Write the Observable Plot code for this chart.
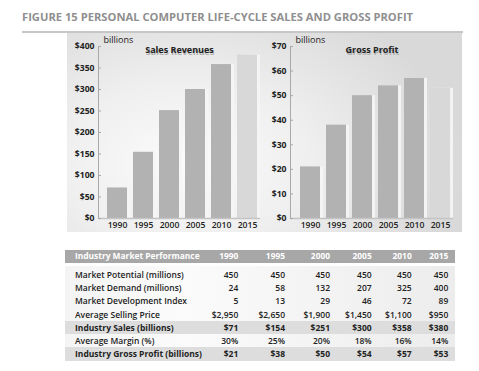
<!DOCTYPE html>
<html><head><meta charset="utf-8">
<script src="https://cdn.jsdelivr.net/npm/d3@7"></script>
<script src="https://cdn.jsdelivr.net/npm/@observablehq/plot@0.6"></script>
<style>
body{margin:0;background:#fff;font-family:"Open Sans",sans-serif;}
#wrap{position:relative;width:479px;height:371px;overflow:hidden;}
#title{position:absolute;left:22px;top:9px;font-size:11.2px;font-weight:700;color:#8f8f8f;white-space:nowrap;line-height:16px;}
#rule{position:absolute;left:22px;top:31px;width:441px;height:2px;background:#c6c6c6;}
#panel{position:absolute;left:67px;top:33px;width:395px;height:199px;
 background:radial-gradient(ellipse 70% 90% at 30% 65%, #fbfbfb 0%, #efefef 45%, #d9d9d9 100%);}
#left{position:absolute;left:67px;top:33px;}
#right{position:absolute;left:267px;top:33px;}
#left svg,#right svg{display:block;}
#tbody{position:absolute;left:65px;top:266px;width:390px;height:95px;background:linear-gradient(to right,#f4f4f4,#fbfbfb 30%,#ececec);}
.hdr{position:absolute;left:65px;top:250px;width:390px;height:12.5px;background:#a7a7a7;color:#fff;font-weight:700;font-size:8.4px;}
.row{position:absolute;left:65px;width:390px;height:13.3px;color:#222;font-size:8.5px;font-weight:600;}
.row.hl{background:#dddddd;font-weight:700;}
.cell{position:absolute;top:0;white-space:nowrap;}
.lab{left:10px;}
.num{width:60px;text-align:right;}
</style></head>
<body><div id="wrap">
<div id="title"></div>
<div id="rule"></div>
<div id="panel"></div>
<div id="left"></div>
<div id="right"></div>
<div id="tbody"></div>
</div>
<script>
const titleText = "FIGURE 15 PERSONAL COMPUTER LIFE-CYCLE SALES AND GROSS PROFIT";
const years = ["1990","1995","2000","2005","2010","2015"];
const salesRevenue = [71,154,251,300,358,380];
const grossProfit = [21,38,50,54,57,53];
const marketPotential = [450,450,450,450,450,450];
const marketDemand = [24,58,132,207,325,400];
const devIndex = [5,13,29,46,72,89];
const avgPrice = [2950,2650,1900,1450,1100,950];
const avgMargin = [30,25,20,18,16,14];
const salesTicks = [0,50,100,150,200,250,300,350,400];
const profitTicks = [0,10,20,30,40,50,60,70];
const tableHeader = "Industry Market Performance";

document.getElementById("title").textContent = titleText;

const barColor = y => y === "2015" ? "#d8d8d8" : "#b2b2b2";

function chart({data, ticks, domain, title, width, marginLeft, marginRight, pIn, pOut, align}) {
  const frameW = width - marginLeft - marginRight;
  return Plot.plot({
    width, height: 200, marginLeft, marginRight, marginTop: 13, marginBottom: 15,
    style: {background: "transparent", fontFamily: "Open Sans", fontSize: "8.6px", color: "#222", overflow: "visible"},
    x: {domain: years, paddingInner: pIn, paddingOuter: pOut, align, label: null},
    y: {domain, label: null},
    marks: [
      Plot.barY(data, {x: "year", y: "value", dx: 3, fill: "#f5f5f5", fillOpacity: 0.9}),
      Plot.barY(data, {x: "year", y: "value", fill: d => barColor(d.year)}),
      Plot.ruleY([0], {stroke: "#c4c4c4", strokeWidth: 1.5}),
      Plot.frame({anchor: "left", stroke: "#a9a9a9"}),
      Plot.ruleY(ticks, {stroke: "#a9a9a9", insetRight: frameW - 3}),
      Plot.axisY(ticks, {tickSize: 0, tickPadding: 4, tickFormat: d => "$" + d, fontWeight: 700}),
      Plot.axisX({tickSize: 0, tickPadding: 3, fontWeight: 600}),
      Plot.text([title], {text: d => d, frameAnchor: "top", lineAnchor: "middle", dy: 5.2, dx: 0.6, fontWeight: 700, fontSize: 9, fill: "#b0b0b0"}),
      Plot.text([title], {text: d => d, frameAnchor: "top", lineAnchor: "middle", dy: 4, fontWeight: 700, fontSize: 9, fill: "#222"}),
      Plot.text(["billions"], {text: d => d, frameAnchor: "top-left", lineAnchor: "middle", dx: 5, dy: -6, textAnchor: "start", fontSize: 9})
    ]
  });
}

document.getElementById("left").append(chart({
  data: years.map((y, i) => ({year: y, value: salesRevenue[i]})),
  ticks: salesTicks, domain: [0, 400], title: "Sales Revenues",
  width: 200, marginLeft: 31, marginRight: 7, pIn: 0.2424, pOut: 0.189, align: 0.77
}));
document.getElementById("right").append(chart({
  data: years.map((y, i) => ({year: y, value: grossProfit[i]})),
  ticks: profitTicks, domain: [0, 70], title: "Gross Profit",
  width: 195, marginLeft: 23, marginRight: 9, pIn: 0.244, pOut: 0.202, align: 0.72
}));

// table
const money = d3.format("$,");
const rows = [
  {label: "Market Potential (millions)", values: marketPotential, fmt: d => d},
  {label: "Market Demand (millions)", values: marketDemand, fmt: d => d},
  {label: "Market Development Index", values: devIndex, fmt: d => d},
  {label: "Average Selling Price", values: avgPrice, fmt: money},
  {label: "Industry Sales (billions)", values: salesRevenue, fmt: money, hl: true},
  {label: "Average Margin (%)", values: avgMargin, fmt: d => d + "%"},
  {label: "Industry Gross Profit (billions)", values: grossProfit, fmt: money, hl: true}
];
const colRight = [173.3, 220, 265, 306.7, 346.7, 383.3];
const wrap = document.getElementById("wrap");
function makeRow(cls, top, label, vals, lh) {
  const r = document.createElement("div");
  r.className = cls;
  r.style.top = top + "px";
  r.style.lineHeight = lh + "px";
  const l = document.createElement("div");
  l.className = "cell lab"; l.textContent = label; r.append(l);
  vals.forEach((v, i) => {
    const c = document.createElement("div");
    c.className = "cell num"; c.style.left = (colRight[i] - 60) + "px"; c.textContent = v; r.append(c);
  });
  wrap.append(r);
}
makeRow("hdr", 250, tableHeader, years, 12.5);
rows.forEach((row, k) => {
  makeRow("row" + (row.hl ? " hl" : ""), 274.3 + 13.3 * k - 6.65, row.label, row.values.map(row.fmt), 13.3);
});
</script>
</body></html>
